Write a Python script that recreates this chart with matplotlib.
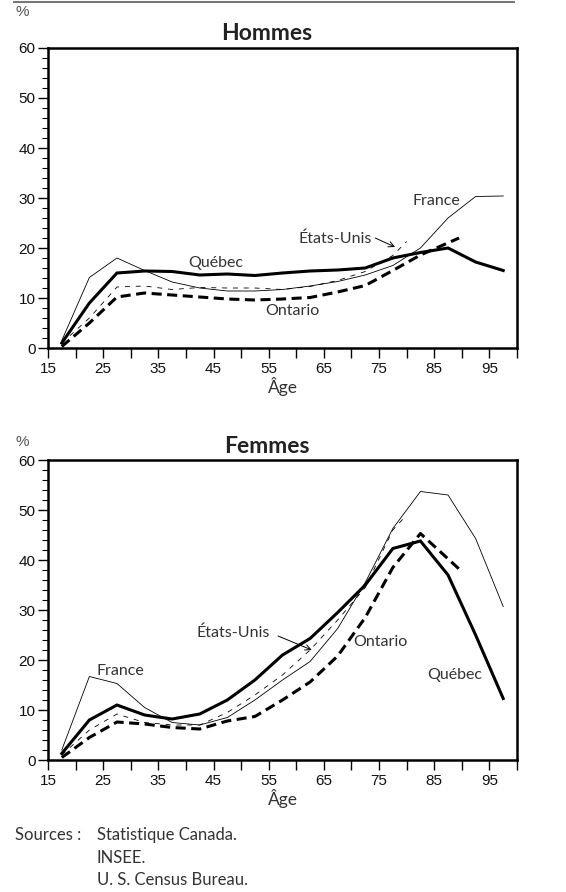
import matplotlib
matplotlib.use("Agg")
import matplotlib.pyplot as plt
from matplotlib.lines import Line2D
from matplotlib.ticker import MultipleLocator


# group mid-ages
ages = [17.5, 22.5, 27.5, 32.5, 37.5, 42.5, 47.5, 52.5, 57.5, 62.5, 67.5,
        72.5, 77.5, 82.5, 87.5, 92.5, 97.5]
ages_us = [17.5, 22.5, 27.5, 32.5, 37.5, 42.5, 47.5, 52.5, 57.5, 62.5, 67.5,
           72.5, 77.5, 80]
ages_ont = [17.5, 22.5, 27.5, 32.5, 37.5, 42.5, 47.5, 52.5, 57.5, 62.5, 67.5,
            72.5, 77.5, 82.5, 89.5]

# Hommes
h_quebec = [1.0, 9.0, 15.0, 15.4, 15.3, 14.6, 14.8, 14.5, 15.0, 15.4, 15.6,
            16.0, 18.0, 19.1, 20.0, 17.2, 15.5]
h_france = [1.5, 14.1, 18.0, 15.5, 13.2, 12.0, 11.4, 11.4, 11.7, 12.4, 13.3,
            14.6, 16.5, 20.0, 26.0, 30.3, 30.4]
h_usa = [1.0, 6.0, 12.2, 12.4, 11.7, 12.1, 12.0, 12.0, 11.7, 12.3, 13.5,
         15.3, 18.5, 21.3]
h_ontario = [0.3, 5.0, 10.2, 11.0, 10.6, 10.2, 9.8, 9.6, 9.8, 10.1, 11.2,
             12.5, 15.5, 18.6, 22.0]

# Femmes
f_quebec = [1.3, 8.0, 11.0, 9.0, 8.2, 9.2, 12.0, 16.0, 21.0, 24.3, 29.5,
            35.0, 42.3, 43.8, 37.0, 25.0, 12.3]
f_france = [2.0, 16.7, 15.3, 10.5, 7.5, 7.0, 8.5, 12.0, 16.0, 19.7, 26.3,
            35.5, 46.3, 53.7, 53.0, 44.3, 30.7]
f_usa = [1.0, 6.0, 9.2, 7.5, 7.0, 7.0, 9.5, 13.0, 17.0, 22.0, 28.0,
         34.5, 46.0, 49.0]
f_ontario = [0.5, 4.5, 7.6, 7.2, 6.5, 6.2, 7.8, 8.7, 12.0, 15.6, 20.8,
             28.5, 38.5, 45.3, 38.2]

xticks_lab = [15, 25, 35, 45, 55, 65, 75, 85, 95]

W, H = 566, 892
TXT = "#333333"
LAB = ["Lato", "DejaVu Sans"]
NUM = ["Liberation Sans", "DejaVu Sans"]


def px(x, y):
    return x / W, 1 - y / H


def setup(ax):
    ax.set_xlim(15, 100)
    ax.set_ylim(0, 60)
    ax.set_xticks(range(15, 101, 5))
    ax.set_xticklabels([str(v) if v in xticks_lab else "" for v in range(15, 101, 5)])
    ax.yaxis.set_major_locator(MultipleLocator(10))
    ax.yaxis.set_minor_locator(MultipleLocator(2))
    ax.tick_params(axis="x", which="major", direction="out", length=7, width=1.0,
                   pad=3, labelsize=11, colors="black")
    ax.tick_params(axis="y", which="major", direction="out", length=7, width=1.0,
                   pad=2, labelsize=11, colors="black")
    ax.tick_params(axis="y", which="minor", direction="out", length=4, width=0.8)
    for lab in ax.get_xticklabels() + ax.get_yticklabels():
        lab.set_family(NUM)
        lab.set_color("#111111")
    for sp in ax.spines.values():
        sp.set_linewidth(1.8)
        sp.set_color("black")
    ax.set_xlabel("Âge", family=LAB, fontsize=12.5, color=TXT, labelpad=1)


def draw(ax, q, f, u, o):
    ax.plot(ages, f, color="black", lw=0.6, solid_joinstyle="miter")
    ax.plot(ages_us, u, color="black", lw=0.6, dashes=(6, 7))
    ax.plot(ages_ont, o, color="black", lw=2.2, dashes=(3.3, 1.8))
    ax.plot(ages, q, color="black", lw=2.2, solid_joinstyle="miter")


fig = plt.figure(figsize=(W / 100, H / 100), dpi=100)

# top rule
fig.add_artist(Line2D([14 / W, 514 / W], [1 - 1.5 / H, 1 - 1.5 / H],
                      color="#777777", lw=1.5))

lk = dict(family=LAB, fontsize=11.5, color=TXT, ha="center", va="center")
arr = dict(arrowstyle="->", color="black", lw=0.7, shrinkA=0, shrinkB=0)

# ---- Hommes ----
ax1 = fig.add_axes([48 / W, 1 - 348 / H, 469 / W, 300 / H])
draw(ax1, h_quebec, h_france, h_usa, h_ontario)
setup(ax1)
fig.text(*px(22, 12), "%", ha="center", va="center", fontsize=11,
         family=NUM, color="#555555")
fig.text(*px(267, 33), "Hommes", ha="center", va="center", fontsize=16.5,
         fontweight="bold", family=LAB, color="#222222")
ax1.text(45.4, 17.0, "Québec", **lk)
ax1.text(59.2, 7.4, "Ontario", **lk)
ax1.text(85.3, 29.4, "France", **lk)
ax1.text(67.0, 21.8, "États-Unis", **lk)
ax1.annotate("", xy=(77.9, 20.2), xytext=(74.3, 22.0), arrowprops=arr)

# ---- Femmes ----
ax2 = fig.add_axes([48 / W, 1 - 760 / H, 469 / W, 300 / H])
draw(ax2, f_quebec, f_france, f_usa, f_ontario)
setup(ax2)
fig.text(*px(22, 442), "%", ha="center", va="center", fontsize=11,
         family=NUM, color="#555555")
fig.text(*px(267, 447), "Femmes", ha="center", va="center", fontsize=16.5,
         fontweight="bold", family=LAB, color="#222222")
ax2.text(48.6, 25.4, "États-Unis", **lk)
ax2.text(75.3, 23.6, "Ontario", **lk)
ax2.text(28.2, 17.8, "France", **lk)
ax2.text(88.8, 17.0, "Québec", **lk)
ax2.annotate("", xy=(62.8, 22.0), xytext=(56.7, 24.8), arrowprops=arr)

# sources
sk = dict(family=LAB, fontsize=12, color=TXT, ha="left", va="center")
fig.text(*px(15, 835), "Sources :", **sk)
fig.text(*px(97, 835), "Statistique Canada.", **sk)
fig.text(*px(97, 858), "INSEE.", **sk)
fig.text(*px(97, 880), "U. S. Census Bureau.", **sk)

fig.savefig("out.png", dpi=100)
